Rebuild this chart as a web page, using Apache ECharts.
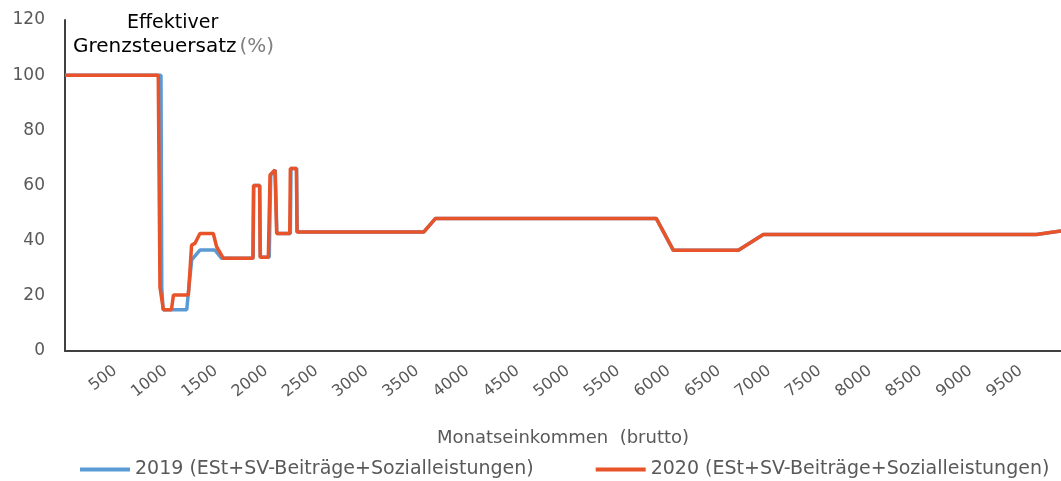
<!DOCTYPE html>
<html lang="de">
<head>
<meta charset="UTF-8">
<title>Effektiver Grenzsteuersatz</title>
<script src="https://cdn.jsdelivr.net/npm/echarts@6/dist/echarts.min.js"></script>
<style>
  html, body { margin: 0; padding: 0; background: #fff; }
  #chart { width: 1061px; height: 481px; }
</style>
</head>
<body>
<div id="chart"></div>
<script>
// Monatseinkommen (brutto) an den Knickpunkten
var income2019 = [0, 954, 962, 975, 1000, 1210, 1226, 1259, 1341, 1491, 1557, 1870, 1876, 1936, 1942, 2030, 2045, 2090, 2106, 2240, 2246, 2302, 2308, 3565, 3681, 5878, 6047, 6693, 6941, 9656, 9660, 9775, 9780, 9900];
var rate2019   = [100, 100, 23, 15, 15, 15, 21, 33, 36.6, 36.6, 33.6, 33.6, 60, 60, 34, 34, 63.8, 65.6, 42.6, 42.6, 66.2, 66.2, 43.1, 43.1, 48, 48, 36.5, 36.5, 42.2, 42.2, 42.9, 42.9, 43.5, 43.5];

var income2020 = [0, 927, 944, 978, 1058, 1078, 1226, 1240, 1258, 1291, 1341, 1474, 1507, 1574, 1868, 1874, 1934, 1940, 2021, 2038, 2087, 2104, 2234, 2240, 2300, 2306, 3565, 3681, 5878, 6047, 6693, 6941, 9656, 9660, 9775, 9780, 9900];
var rate2020   = [100, 100, 23, 15, 15, 20.3, 20.3, 28, 38.4, 39, 42.6, 42.6, 37.8, 33.6, 33.6, 60, 60, 34, 34, 63.8, 65.6, 42.6, 42.6, 66.2, 66.2, 43.1, 43.1, 48, 48, 36.5, 36.5, 42.2, 42.2, 42.9, 42.9, 43.5, 43.5];

var seriesNames = ['2019 (ESt+SV-Beiträge+Sozialleistungen)', '2020 (ESt+SV-Beiträge+Sozialleistungen)'];

function pairs(xs, ys) {
  return xs.map(function (x, i) { return [x, ys[i]]; });
}

var myChart = echarts.init(document.getElementById('chart'));
var font = 'DejaVu Sans, sans-serif';

var option = {
  animation: false,
  textStyle: { fontFamily: font },
  grid: { left: 65, right: 0, top: 20, bottom: 130, containLabel: false },
  legend: {
    top: 455,
    left: 75,
    itemWidth: 50,
    itemHeight: 4,
    itemGap: 62,
    icon: 'rect',
    textStyle: { color: '#595959', fontSize: 19, fontFamily: font },
    data: seriesNames
  },
  xAxis: {
    type: 'value',
    min: 0,
    max: 9900,
    interval: 500,
    name: 'Monatseinkommen  (brutto)',
    nameLocation: 'middle',
    nameGap: 78,
    nameTextStyle: { color: '#595959', fontSize: 18, fontFamily: font },
    axisLine: { show: true, lineStyle: { color: '#404040', width: 2 } },
    axisTick: { show: false },
    splitLine: { show: false },
    axisLabel: {
      rotate: 38,
      margin: 18,
      color: '#595959',
      fontSize: 16,
      showMinLabel: false,
      showMaxLabel: false,
      formatter: function (v) { return String(v); }
    }
  },
  yAxis: {
    type: 'value',
    min: 0,
    max: 120,
    interval: 20,
    axisLine: { show: true, lineStyle: { color: '#404040', width: 2 } },
    axisTick: { show: false },
    splitLine: { show: false },
    axisLabel: { color: '#595959', fontSize: 17, margin: 20 }
  },
  graphic: [
    {
      type: 'text',
      left: 127,
      top: 14,
      style: { text: 'Effektiver', fill: '#000', font: '19px ' + font }
    },
    {
      type: 'text',
      left: 73,
      top: 37,
      style: {
        text: '{a|Grenzsteuersatz}{b|(%)}',
        rich: {
          a: { fill: '#000', fontSize: 20, fontFamily: font },
          b: { fill: '#7f7f7f', fontSize: 20, fontFamily: font, padding: [0, 0, 0, 3] }
        }
      }
    }
  ],
  series: [
    {
      name: seriesNames[0],
      type: 'line',
      showSymbol: false,
      symbol: 'none',
      itemStyle: { color: '#5B9BD5' },
      lineStyle: { color: '#5B9BD5', width: 3.5 },
      data: pairs(income2019, rate2019)
    },
    {
      name: seriesNames[1],
      type: 'line',
      showSymbol: false,
      symbol: 'none',
      z: 3,
      itemStyle: { color: '#E9532A' },
      lineStyle: { color: '#E9532A', width: 3.5 },
      data: pairs(income2020, rate2020)
    }
  ]
};

myChart.setOption(option);
</script>
</body>
</html>
